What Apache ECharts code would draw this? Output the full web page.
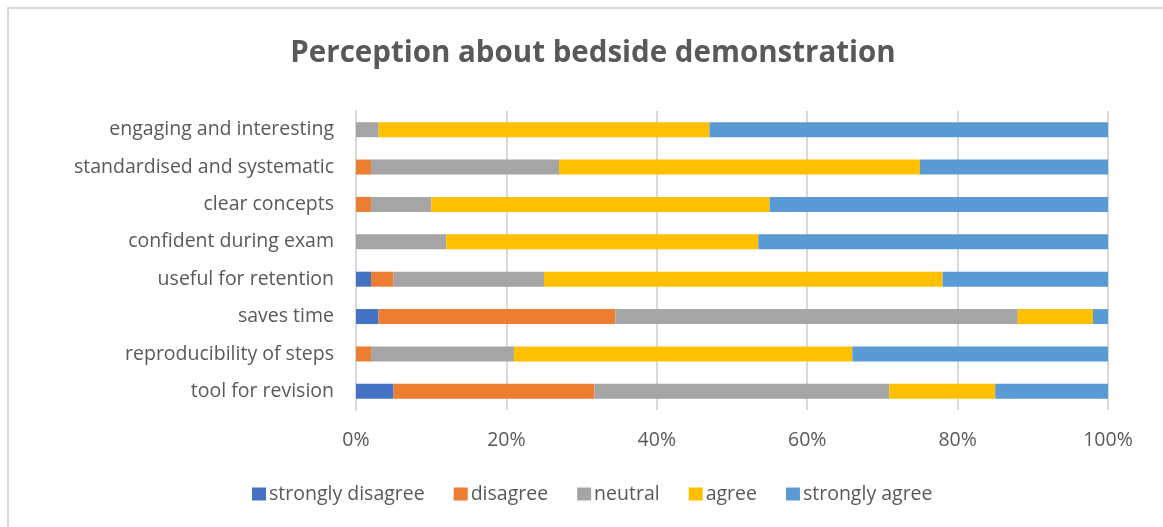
<!DOCTYPE html>
<html>
<head>
<meta charset="utf-8">
<script src="https://cdn.jsdelivr.net/npm/echarts@6/dist/echarts.min.js"></script>
<style>
html,body{margin:0;padding:0;background:#fff;overflow:hidden;}
#chart{width:1163px;height:527px;}
</style>
</head>
<body>
<div id="chart"></div>
<script>
const categories = ['engaging and interesting','standardised and systematic','clear concepts','confident during exam','useful for retention','saves time','reproducibility of steps','tool for revision'];
const stronglyDisagree = [0, 0, 0, 0, 2, 3, 0, 5];
const disagree = [0, 2, 2, 0, 3, 31.5, 2, 26.7];
const neutral = [3, 25, 8, 12, 20, 53.5, 19, 39.2];
const agree = [44, 48, 45, 41.5, 53, 10, 45, 14.1];
const stronglyAgree = [53, 25, 45, 46.5, 22, 2, 34, 15];
const seriesNames = ['strongly disagree','disagree','neutral','agree','strongly agree'];
const seriesColors = ['#4472C4','#ED7D31','#A5A5A5','#FFC000','#5B9BD5'];
const seriesData = [stronglyDisagree, disagree, neutral, agree, stronglyAgree];

const FONT = '"Open Sans", sans-serif';
const TXT = '#595959';

const chart = echarts.init(document.getElementById('chart'), null, {renderer:'canvas'});
chart.setOption({
  animation:false,
  backgroundColor:'#fff',
  title:{
    text:'Perception about bedside demonstration',
    left:588, top:34, textAlign:'center',
    textStyle:{fontFamily:FONT, fontSize:29.5, fontWeight:'bold', color:TXT}
  },
  graphic:[{
    type:'polyline', silent:true,
    shape:{points:[[8,527],[8,8],[1163,8]]},
    style:{stroke:'#d9d9d9', lineWidth:2, fill:null}
  }],
  legend:{
    data:seriesNames,
    left:247, top:479,
    icon:'rect', itemWidth:14, itemHeight:13, itemGap:29,
    textStyle:{fontFamily:FONT, fontSize:19.5, color:TXT, padding:[0,0,0,-2]}
  },
  grid:{left:356, right:55, top:111, bottom:117, containLabel:false},
  xAxis:{
    type:'value', min:0, max:100, interval:20,
    axisLine:{show:false}, axisTick:{show:false},
    axisLabel:{formatter:'{value}%', fontFamily:FONT, fontSize:19.5, color:TXT, margin:20},
    splitLine:{show:true, lineStyle:{color:'#d9d9d9', width:2}}
  },
  yAxis:{
    type:'category', data:categories, inverse:true,
    axisLine:{show:true, lineStyle:{color:'#d9d9d9', width:2}},
    axisTick:{show:false},
    axisLabel:{fontFamily:FONT, fontSize:19.5, color:TXT, margin:22}
  },
  series: seriesNames.map((n,i)=>({
    name:n, type:'bar', stack:'total', data:seriesData[i],
    barWidth:15, itemStyle:{color:seriesColors[i]}
  }))
});
</script>
</body>
</html>
